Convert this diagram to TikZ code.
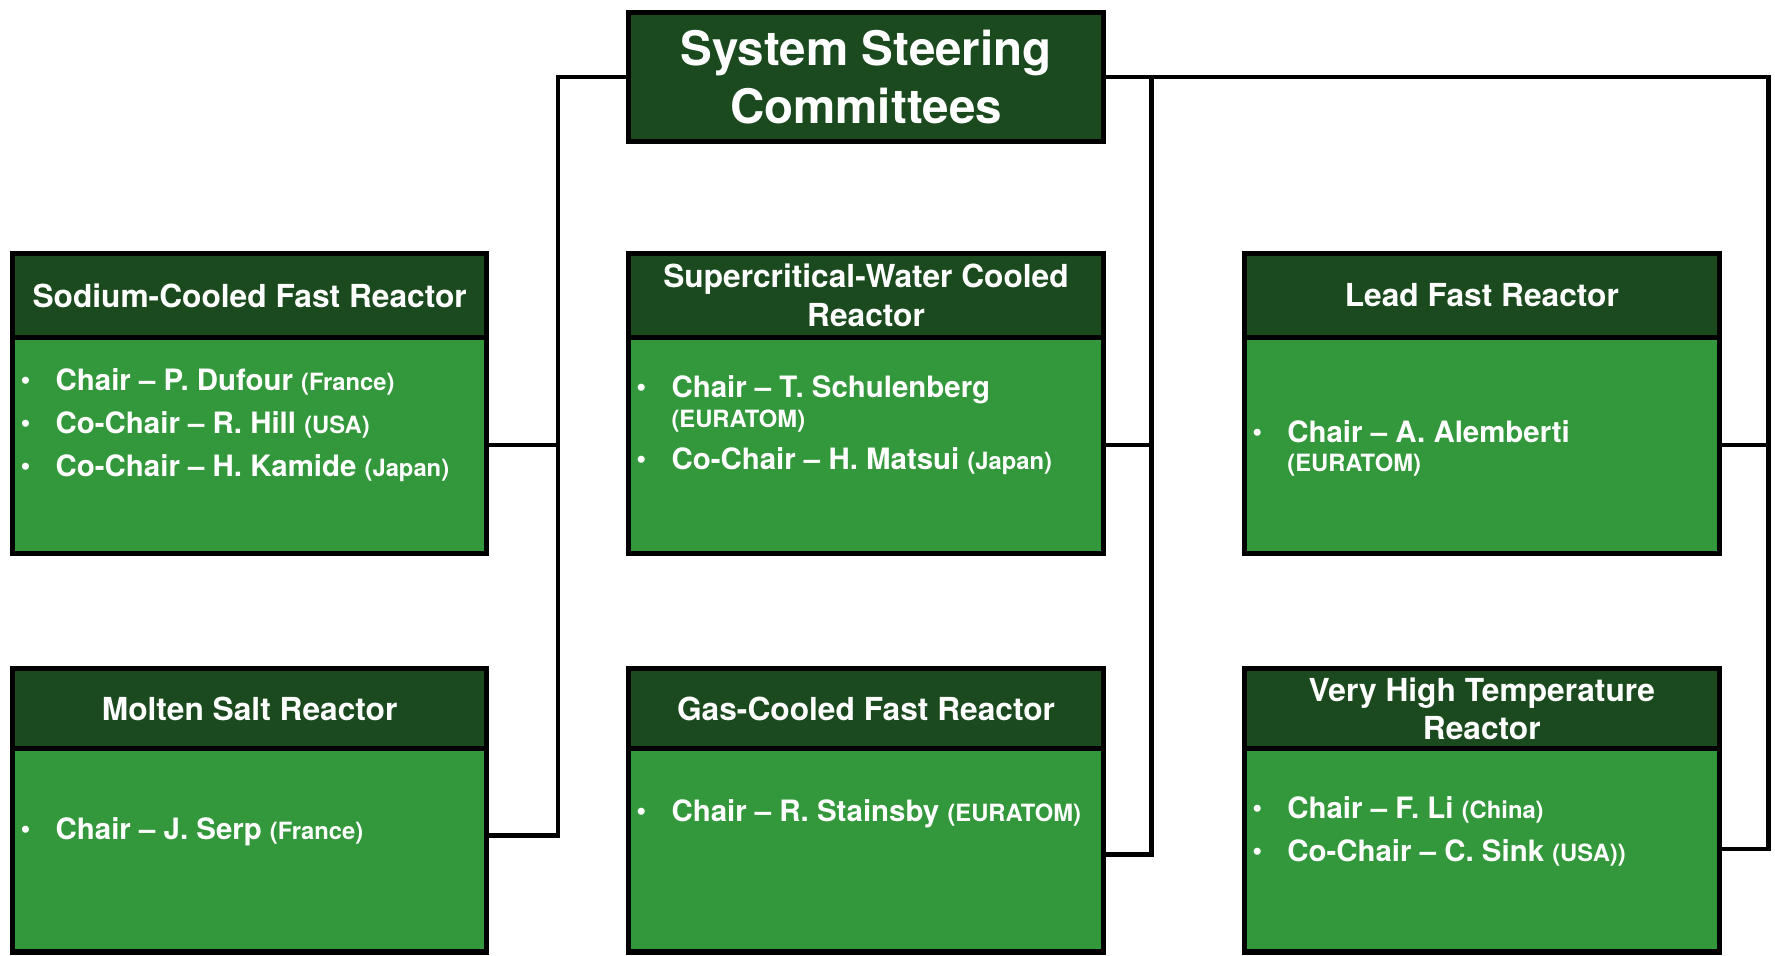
\documentclass[tikz,border=0pt]{standalone}
\usepackage{fontspec}
\setmainfont{TeX Gyre Heros}
\definecolor{hdrgreen}{HTML}{1B4A1F}
\definecolor{bodygreen}{HTML}{33983B}
\newcommand\sm[1]{{\fontsize{21}{25}\selectfont #1}}
\newcommand\myitem[4]{%
  \node[bul] (#1b) at (#2,#3) {\textbullet};
  \node[itm] (#1) at (#2+31,#3) {#4};}
\begin{document}
\begin{tikzpicture}[x=1pt,y=-1pt,
  hdr/.style={draw=black,line width=4.5pt,fill=hdrgreen,text=white,
    font=\bfseries\fontsize{28}{34}\selectfont,align=center,inner sep=0,outer sep=0},
  ttl/.style={hdr,font=\bfseries\fontsize{42}{51}\selectfont},
  bodybox/.style={draw=black,line width=4.5pt,fill=bodygreen,inner sep=0,outer sep=0},
  itm/.style={anchor=base west,inner sep=0,text=white,font=\bfseries\fontsize{26}{31}\selectfont},
  bul/.style={anchor=base west,inner sep=0,text=white,font=\fontsize{25}{30}\selectfont},
  conn/.style={draw=black,line width=4.2pt}]
\useasboundingbox (0,0) rectangle (1568,844);
% connectors
\coordinate (lbus) at (493,738);
\coordinate (mbus) at (1017,755);
\coordinate (rbus) at (1562,750);
% boxes
\node[ttl,minimum width=420,minimum height=114] (ssc) at (765,68) {System Steering\\Committees};
\node[bodybox,minimum width=419,minimum height=192] (sfrb) at (220.5,393) {};
\node[hdr,minimum width=419,minimum height=74] (sfrh) at (220.5,261) {Sodium-Cooled Fast Reactor};
\node[bodybox,minimum width=420,minimum height=192] (scwrb) at (765,393) {};
\node[hdr,minimum width=420,minimum height=74] (scwrh) at (765,261) {Supercritical-Water Cooled\\Reactor};
\node[bodybox,minimum width=420,minimum height=192] (lfrb) at (1309,393) {};
\node[hdr,minimum width=420,minimum height=74] (lfrh) at (1309,261) {Lead Fast Reactor};
\node[bodybox,minimum width=419,minimum height=180] (msrb) at (220.5,751) {};
\node[hdr,minimum width=419,minimum height=71] (msrh) at (220.5,626) {Molten Salt Reactor};
\node[bodybox,minimum width=420,minimum height=180] (gfrb) at (765,751) {};
\node[hdr,minimum width=420,minimum height=71] (gfrh) at (765,626) {Gas-Cooled Fast Reactor};
\node[bodybox,minimum width=420,minimum height=180] (vhtrb) at (1309,751) {};
\node[hdr,minimum width=420,minimum height=71] (vhtrh) at (1309,626) {Very High Temperature\\Reactor};
% connector lines
\draw[conn] (ssc.west) -| (lbus) -- (lbus -| msrb.east);
\draw[conn] (sfrb.east) -- (sfrb.east -| lbus);
\draw[conn] (mbus |- ssc.east) -- (mbus) -- (mbus -| gfrb.east);
\draw[conn] (scwrb.east) -- (scwrb.east -| mbus);
\draw[conn] (ssc.east) -| (rbus) -- (rbus -| vhtrb.east);
\draw[conn] (lfrb.east) -- (lfrb.east -| rbus);
% texts
\myitem{s1}{18}{345}{Chair – P. Dufour \sm{(France)}}
\myitem{s2}{18}{383}{Co-Chair – R. Hill \sm{(USA)}}
\myitem{s3}{18}{421}{Co-Chair – H. Kamide \sm{(Japan)}}
\myitem{w1}{562}{351}{Chair – T. Schulenberg}
\node[itm] (w1c) at (593,377.5) {\sm{(EURATOM)}};
\myitem{w2}{562}{415}{Co-Chair – H. Matsui \sm{(Japan)}}
\myitem{l1}{1106}{391}{Chair – A. Alemberti}
\node[itm] (l1c) at (1137,416.5) {\sm{(EURATOM)}};
\myitem{m1}{18}{742}{Chair – J. Serp \sm{(France)}}
\myitem{g1}{562}{726}{Chair – R. Stainsby \sm{(EURATOM)}}
\myitem{v1}{1106}{723}{Chair – F. Li \sm{(China)}}
\myitem{v2}{1106}{761}{Co-Chair – C. Sink \sm{(USA))}}
\end{tikzpicture}
\end{document}
